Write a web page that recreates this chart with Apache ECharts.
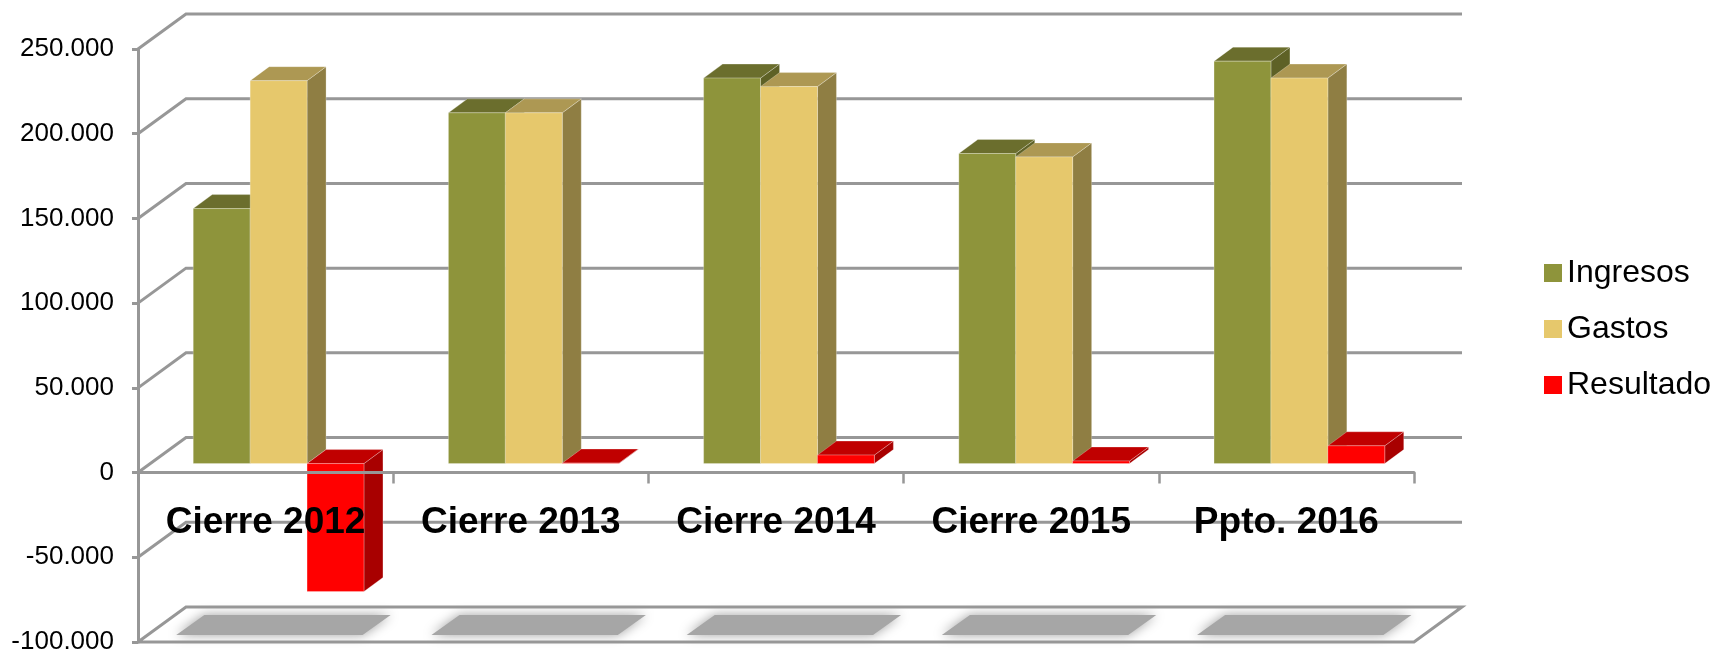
<!DOCTYPE html>
<html>
<head>
<meta charset="utf-8">
<title>Cierres y presupuesto</title>
<script src="https://cdn.jsdelivr.net/npm/echarts@6/dist/echarts.min.js"></script>
<style>
  html, body { margin: 0; padding: 0; background: #fff; }
  #chart { width: 1715px; height: 654px; }
</style>
</head>
<body>
<div id="chart"></div>
<script>
// datos
const categories = ['Cierre 2012', 'Cierre 2013', 'Cierre 2014', 'Cierre 2015', 'Ppto. 2016']
const ingresos = [150500, 207000, 227500, 183000, 237500]
const gastos = [226000, 207000, 222500, 181000, 227500]
const resultado = [-75500, 300, 5000, 1500, 10500]
const yTicks = [-100000, -50000, 0, 50000, 100000, 150000, 200000, 250000]

// perspectiva del 3D, en px
const wallDx = 48
const wallDy = 35
const barFrontDx = 13
const barFrontDy = 9
const barBackDx = 32
const barBackDy = 23
const barRatio = 0.223

const gridColor = '#979797'

// caras: frontal, superior, lateral
const faces = {
  Ingresos: ['#8e943b', '#6b6e2d', '#5e6126'],
  Gastos: ['#e6c86c', '#ad9853', '#8f7e43'],
  Resultado: ['#ff0000', '#c00000', '#a80000']
}

const edge = { stroke: 'rgba(255,255,255,0.25)', lineWidth: 1 }

function poly(points, fill) {
  return { type: 'polygon', shape: { points }, style: { fill, ...edge } }
}

function barRenderer(name, slot) {
  const [front, top, side] = faces[name]
  return function (params, api) {
    const band = api.size([1, 0])[0]
    const w = band * barRatio
    const cx = api.coord([api.value(0), 0])[0]
    const x0 = cx + (slot - 1.5) * w + barFrontDx
    const x1 = x0 + w
    const yZero = api.coord([api.value(0), 0])[1] - barFrontDy
    const yVal = api.coord([api.value(0), api.value(1)])[1] - barFrontDy
    const yTop = Math.min(yZero, yVal)
    const yBot = Math.max(yZero, yVal)
    const dx = barBackDx - barFrontDx
    const dy = barBackDy - barFrontDy
    return {
      type: 'group',
      children: [
        poly([[x1, yTop], [x1 + dx, yTop - dy], [x1 + dx, yBot - dy], [x1, yBot]], side),
        poly([[x0, yTop], [x0 + dx, yTop - dy], [x1 + dx, yTop - dy], [x1, yTop]], top),
        poly([[x0, yTop], [x1, yTop], [x1, yBot], [x0, yBot]], front)
      ]
    }
  }
}

function barSeries(name, values, slot) {
  return {
    name,
    type: 'custom',
    z: 3,
    itemStyle: { color: faces[name][0] },
    renderItem: barRenderer(name, slot),
    encode: { x: 0, y: 1 },
    data: values.map((v, i) => [i, v])
  }
}

function line(points) {
  return {
    type: 'polyline',
    shape: { points },
    style: { fill: null, stroke: gridColor, lineWidth: 3 }
  }
}

// paredes del fondo y lateral
function renderWall(params, api) {
  const rect = params.coordSys
  const y = api.coord([0, api.value(0)])[1]
  const left = rect.x
  const right = rect.x + rect.width
  const pts = [[left, y], [left + wallDx, y - wallDy], [right + wallDx, y - wallDy]]
  // el suelo se cierra por delante
  if (api.value(0) === yTicks[0]) pts.push([right, y], [left, y])
  return line(pts)
}

// sombras sobre el suelo
function renderShadow(params, api) {
  const band = api.size([1, 0])[0]
  const start = api.coord([api.value(0), yTicks[0]])[0] - band / 2
  const y = api.coord([api.value(0), yTicks[0]])[1]
  return {
    type: 'polygon',
    shape: {
      points: [
        [start + band * 0.26, y - 27],
        [start + band * 0.99, y - 27],
        [start + band * 0.88, y - 7],
        [start + band * 0.15, y - 7]
      ]
    },
    style: { fill: '#a6a6a6', shadowBlur: 12, shadowColor: '#a0a0a0' }
  }
}

const chart = echarts.init(document.getElementById('chart'), null, { renderer: 'canvas' })

chart.setOption({
  animation: false,
  backgroundColor: '#fff',
  textStyle: { fontFamily: '"Liberation Sans", Arial, sans-serif' },
  grid: { left: 138, top: 49, width: 1276, height: 593, outerBoundsMode: 'none' },
  legend: {
    left: 1539,
    top: 252,
    orient: 'vertical',
    icon: 'rect',
    itemWidth: 18,
    itemHeight: 18,
    itemGap: 24,
    data: ['Ingresos', 'Gastos', 'Resultado'],
    textStyle: { fontSize: 32, color: '#000' }
  },
  xAxis: {
    type: 'category',
    data: categories,
    z: 10,
    axisLine: { onZero: true, lineStyle: { color: gridColor, width: 3 } },
    axisTick: { show: true, interval: 0, length: 11, lineStyle: { color: gridColor, width: 2.5 } },
    // las etiquetas se quedan abajo con onZero, el margen negativo las sube
    axisLabel: { interval: 0, margin: -138, fontSize: 37, fontWeight: 'bold', color: '#000' },
    splitLine: { show: false }
  },
  yAxis: {
    type: 'value',
    min: -100000,
    max: 250000,
    interval: 50000,
    axisLine: { show: true, lineStyle: { color: gridColor, width: 3 } },
    axisTick: { show: true, length: 6, lineStyle: { color: gridColor, width: 3 } },
    axisLabel: {
      margin: 24,
      fontSize: 26,
      color: '#000',
      padding: [6, 0, 0, 0],
      formatter: (v) => String(v).replace(/\B(?=(\d{3})+$)/g, '.')
    },
    splitLine: { show: false }
  },
  series: [
    {
      type: 'custom',
      name: 'shadow',
      silent: true,
      z: 1,
      renderItem: renderShadow,
      encode: { x: 0 },
      data: categories.map((c, i) => [i])
    },
    {
      type: 'custom',
      name: 'wall',
      silent: true,
      z: 1,
      renderItem: renderWall,
      encode: { y: 0 },
      data: yTicks.map((v) => [v])
    },
    barSeries('Ingresos', ingresos, 0),
    barSeries('Gastos', gastos, 1),
    barSeries('Resultado', resultado, 2)
  ]
})
</script>
</body>
</html>
